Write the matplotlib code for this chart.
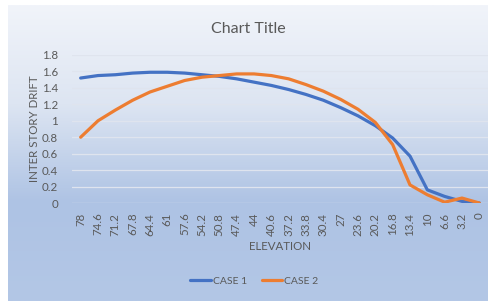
import numpy as np
import matplotlib
matplotlib.use('Agg')
import matplotlib.pyplot as plt
from matplotlib.colors import LinearSegmentedColormap

elevation = ['78', '74.6', '71.2', '67.8', '64.4', '61', '57.6', '54.2', '50.8', '47.4',
             '44', '40.6', '37.2', '33.8', '30.4', '27', '23.6', '20.2', '16.8', '13.4',
             '10', '6.6', '3.2', '0']
case1 = [1.52, 1.55, 1.56, 1.58, 1.59, 1.59, 1.58, 1.56, 1.54, 1.51,
         1.47, 1.43, 1.38, 1.32, 1.25, 1.16, 1.06, 0.94, 0.79, 0.57,
         0.16, 0.08, 0.02, 0.0]
case2 = [0.80, 1.00, 1.13, 1.25, 1.35, 1.42, 1.49, 1.53, 1.55, 1.57,
         1.57, 1.55, 1.51, 1.44, 1.36, 1.26, 1.14, 0.98, 0.71, 0.22,
         0.10, 0.01, 0.06, 0.0]
yticks = [0, 0.2, 0.4, 0.6, 0.8, 1, 1.2, 1.4, 1.6, 1.8]

plt.rcParams['font.family'] = ['Lato', 'DejaVu Sans']
txt = '#595959'

fig = plt.figure(figsize=(4.89, 3.01), dpi=100)

# gradient background of the chart area
bg = fig.add_axes([8 / 489, 0, 1 - 8 / 489, 1 - 5 / 301])
bg.axis('off')
cmap = LinearSegmentedColormap.from_list('bg', ['#f1f4fa', '#dde5f2', '#aec3e4', '#b3c7e6'])
grad = np.linspace(0, 1, 256).reshape(-1, 1)
bg.imshow(grad, aspect='auto', cmap=cmap, extent=[0, 1, 0, 1], origin='upper')
bg.set_xlim(0, 1)
bg.set_ylim(0, 1)

ax = fig.add_axes([72 / 489, 98 / 301, 416 / 489, 148 / 301])
ax.patch.set_alpha(0)
x = np.arange(len(elevation))
ax.plot(x, case1, color='#4472C4', lw=2.3, label='CASE 1', solid_capstyle='round')
ax.plot(x, case2, color='#ED7D31', lw=2.3, label='CASE 2', solid_capstyle='round')

ax.set_xlim(-0.5, len(elevation) - 0.5)
ax.set_ylim(0, 1.8)
ax.set_yticks(yticks)
ax.set_yticklabels([f'{v:g}' for v in yticks])
ax.set_xticks(x)
ax.set_xticklabels(elevation, rotation=90)
ax.tick_params(length=0, labelsize=8.3, colors=txt, pad=7)
ax.tick_params(axis='y', pad=10)
for s in ax.spines.values():
    s.set_visible(False)
ax.grid(axis='y', color='#dfe4ee', lw=0.9)
ax.set_axisbelow(True)

ax.set_xlabel('ELEVATION', fontsize=8.3, color=txt, labelpad=4)
ax.set_ylabel('INTER STORY DRIFT', fontsize=8.3, color=txt, labelpad=1)
fig.text(0.508, 0.905, 'Chart Title', fontsize=11.5, color=txt, ha='center', va='center')

leg = fig.legend(loc='center', bbox_to_anchor=(0.52, 0.066), ncol=2, frameon=False,
                 fontsize=7.5, handlelength=2.0, columnspacing=1.4, handletextpad=0.15)
for t in leg.get_texts():
    t.set_color(txt)

fig.savefig('out.png', dpi=100)
